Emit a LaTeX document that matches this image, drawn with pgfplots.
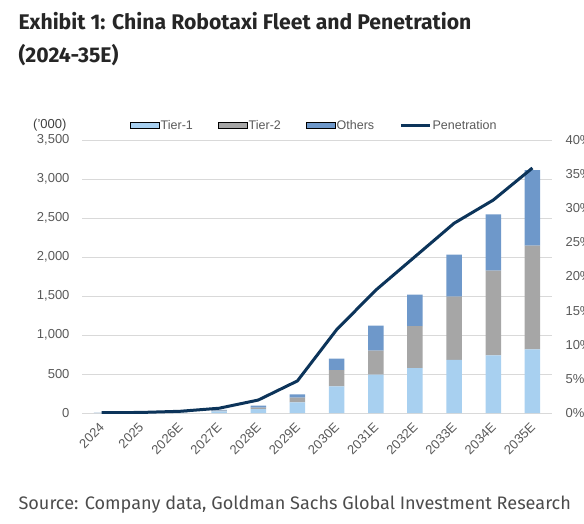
\documentclass[border=0pt]{standalone}
\usepackage{fontspec}
\setmainfont{Liberation Sans}
\newfontfamily\titlefont{Fira Sans}
\usepackage{pgfplots}
\pgfplotsset{compat=1.18}

\definecolor{tierone}{RGB}{168,208,240}
\definecolor{tiertwo}{RGB}{166,166,166}
\definecolor{others}{RGB}{110,152,202}
\definecolor{pen}{RGB}{12,52,90}
\definecolor{gridc}{RGB}{217,217,217}
\definecolor{tickc}{RGB}{89,89,89}

\pgfplotsset{
  barleg/.style={legend image code/.code={\fill[##1] (0pt,-2.6pt) rectangle (29pt,2.6pt);}},
  lineleg/.style={legend image code/.code={\draw[##1] (0pt,0pt) -- (29pt,0pt);}},
  base/.style={
    at={(82pt,-413pt)}, anchor=south west,
    scale only axis, width=470pt, height=273pt,
    xmin=-0.5, xmax=11.5,
    axis line style={draw=none},
    major tick length=0pt,
    /pgf/number format/assume math mode=true,
    ticklabel style={text=tickc, font=\fontsize{13}{14}\selectfont},
  },
}

\begin{document}
\begin{tikzpicture}[x=1pt,y=1pt]
\path[use as bounding box] (0,0) rectangle (584,-523);

\node[anchor=base west, font=\titlefont\bfseries\fontsize{21.2}{24}\selectfont, text=black!85]
  at (15,-29.3) {Exhibit 1: China Robotaxi Fleet and Penetration};
\node[anchor=base west, font=\titlefont\bfseries\fontsize{21.2}{24}\selectfont, text=black!85]
  at (15,-62.7) {(2024-35E)};
\node[anchor=base west, font=\titlefont\fontsize{18.1}{20}\selectfont, text=black!70]
  at (15,-509.3) {Source: Company data, Goldman Sachs Global Investment Research};
\node[anchor=base east, font=\fontsize{13}{14}\selectfont, text=black!75]
  at (70,-128) {('000)};

% fleet, thousands
\begin{axis}[base,
  ymin=0, ymax=3500,
  ytick={0,500,...,3500},
  ymajorgrids, grid style={draw=gridc, line width=0.8pt},
  scaled y ticks=false,
  yticklabel style={/pgf/number format/1000 sep={,}, anchor=east, xshift=-9pt},
  xtick={0,...,11},
  xticklabels={2024,2025,2026E,2027E,2028E,2029E,2030E,2031E,2032E,2033E,2034E,2035E},
  xticklabel style={rotate=45, anchor=east, xshift=-5pt, yshift=-9pt},
  ybar stacked, bar width=15.5pt,
]
\addplot[fill=tierone, draw=none] coordinates {(0,0.5)(1,0.8)(2,3)(3,20)(4,50)(5,137)(6,342)(7,491)(8,577)(9,680)(10,740)(11,817)};
\addplot[fill=tiertwo, draw=none] coordinates {(0,0.3)(1,0.5)(2,1.5)(3,10)(4,20)(5,60)(6,209)(7,308)(8,538)(9,811)(10,1085)(11,1328)};
\addplot[fill=others, draw=none] coordinates {(0,0.2)(1,0.3)(2,1)(3,10)(4,25)(5,43)(6,145)(7,321)(8,402)(9,539)(10,722)(11,970)};
\end{axis}

% penetration, %
\begin{axis}[base,
  ymin=0, ymax=40,
  ytick={0,5,...,40},
  axis y line*=right, axis x line=none,
  yticklabel={\pgfmathprintnumber{\tick}\%},
  yticklabel style={anchor=west, xshift=10pt},
  legend columns=4,
  legend style={at={(0.102,1.054)}, anchor=west, draw=none, fill=none,
    inner sep=0pt, font=\fontsize{12.5}{14}\selectfont, text=tickc,
    nodes={inner sep=1.2pt},
    /tikz/every even column/.append style={column sep=24pt}},
]
\addlegendimage{barleg, fill=tierone}
\addlegendentry{Tier-1}
\addlegendimage{barleg, fill=tiertwo}
\addlegendentry{Tier-2}
\addlegendimage{barleg, fill=others}
\addlegendentry{Others}
\addplot[pen, line width=3pt, lineleg] coordinates {(0,0.05)(1,0.08)(2,0.25)(3,0.7)(4,1.9)(5,4.7)(6,12.2)(7,18.0)(8,22.9)(9,27.8)(10,31.2)(11,35.9)};
\addlegendentry{Penetration}
\end{axis}
\end{tikzpicture}
\end{document}
